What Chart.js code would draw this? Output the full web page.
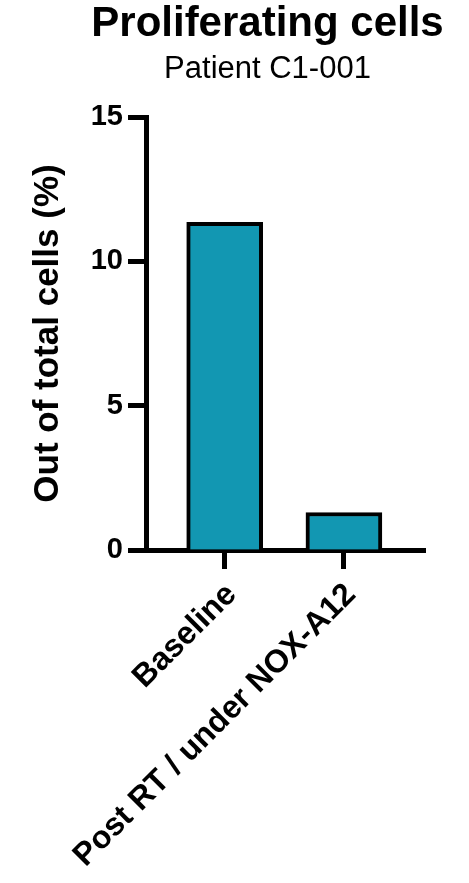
<!DOCTYPE html>
<html lang="en">
<head>
  <meta charset="UTF-8">
  <title>Proliferating cells</title>
  <style>
    html, body { margin: 0; padding: 0; background: #fff; }
    #wrap { width: 469px; height: 883px; }
  </style>
</head>
<body>
  <div id="wrap"><canvas id="chart" width="469" height="883"></canvas></div>

  <script src="https://cdn.jsdelivr.net/npm/chart.js"></script>
  <script>
    // data
    const categories = ['Baseline', 'Post RT / under NOX-A12'];
    const proliferating = [11.35, 1.3];
    const yTicks = [0, 5, 10, 15];

    const FONT = '"Liberation Sans", Arial, sans-serif';
    const barColor = '#1297b2';

    const points = proliferating.map((v, i) => ({ x: i, y: v }));

    new Chart(document.getElementById('chart'), {
      type: 'bar',
      data: {
        datasets: [{
          label: 'Proliferating cells',
          data: points,
          backgroundColor: barColor,
          borderColor: '#000',
          borderWidth: 4,
          barThickness: 76
        }]
      },
      options: {
        responsive: false,
        animation: false,
        // left padding shifts the centred title towards the plot like in the figure
        layout: { padding: { left: 66, right: 0, top: 0, bottom: 0 } },
        plugins: {
          legend: { display: false },
          tooltip: { enabled: false },
          title: {
            display: true,
            text: 'Proliferating cells',
            color: '#000',
            font: { family: FONT, size: 42, weight: 'bold', lineHeight: 1.0 },
            padding: { top: 3, bottom: 0 }
          },
          subtitle: {
            display: true,
            text: 'Patient C1-001',
            color: '#000',
            font: { family: FONT, size: 31, weight: 'normal', lineHeight: 1.0 },
            padding: { top: 8.5, bottom: 32.5 }
          }
        },
        scales: {
          x: {
            type: 'linear',
            position: 'bottom',
            offset: false,
            min: -0.66,
            max: 1.68,
            afterBuildTicks: scale => {
              scale.ticks = categories.map((c, i) => ({ value: i }));
            },
            afterFit: scale => { scale.height = 333; },
            grid: {
              offset: false,
              drawOnChartArea: false,
              drawTicks: true,
              tickLength: 19,
              tickWidth: 5,
              tickColor: '#000'
            },
            border: { display: true, color: '#000', width: 5 },
            ticks: {
              autoSkip: false,
              minRotation: 45,
              maxRotation: 45,
              padding: 7,
              labelOffset: 7,
              color: '#000',
              font: { family: FONT, size: 32, weight: 'bold' },
              callback: value => categories[value] ?? ''
            }
          },
          y: {
            min: 0,
            max: 15,
            afterBuildTicks: scale => {
              scale.ticks = yTicks.map(v => ({ value: v }));
            },
            afterFit: scale => { scale.width = 80; },
            grid: {
              drawOnChartArea: false,
              drawTicks: true,
              tickLength: 18,
              tickWidth: 5,
              tickColor: '#000'
            },
            border: { display: true, color: '#000', width: 5 },
            ticks: {
              padding: 5,
              color: '#000',
              font: { family: FONT, size: 29, weight: 'bold' }
            },
            title: {
              display: true,
              text: 'Out of total cells (%)',
              color: '#000',
              font: { family: FONT, size: 35, weight: 'bold', lineHeight: 1.2 },
              padding: { top: -39, bottom: 0 }
            }
          },
          // empty right-hand axis that only reserves the white margin
          yRight: {
            position: 'right',
            display: true,
            afterFit: scale => { scale.width = 44; },
            grid: { display: false },
            border: { display: false },
            ticks: { display: false }
          }
        }
      }
    });
  </script>
</body>
</html>
